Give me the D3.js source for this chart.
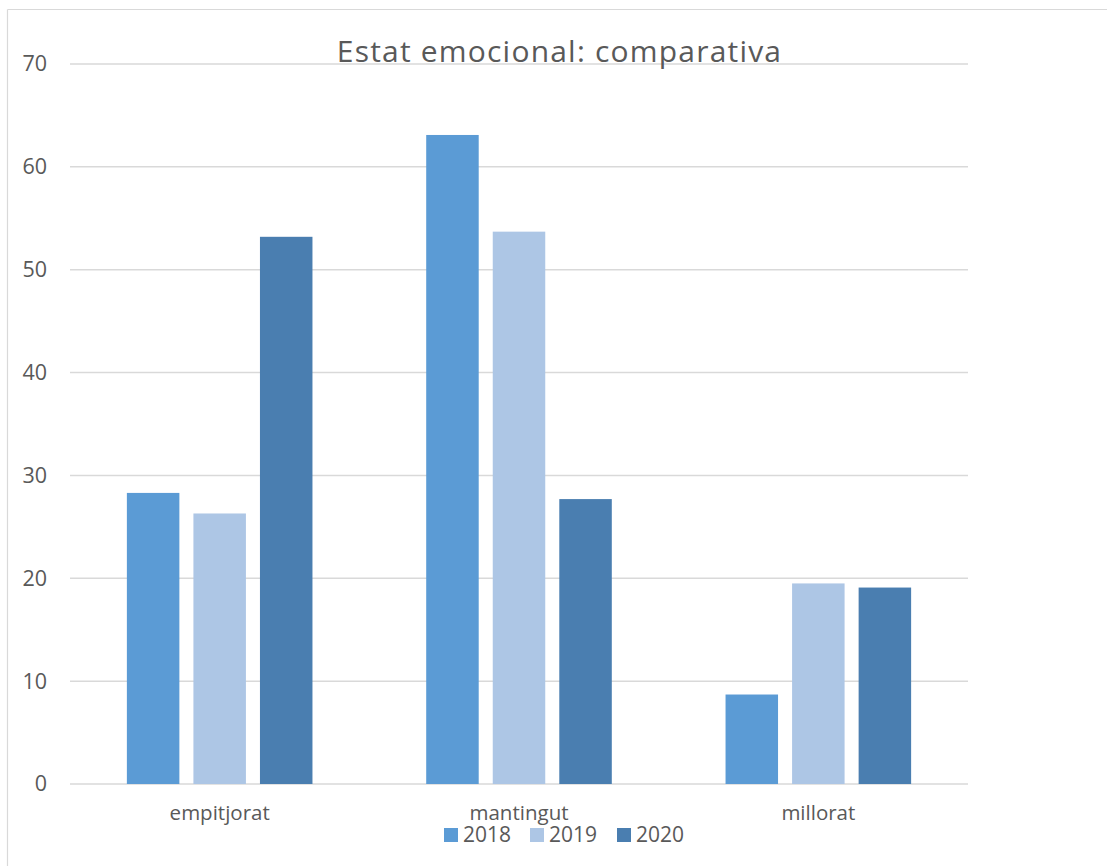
<!DOCTYPE html>
<html>
<head>
<meta charset="utf-8">
<script src="https://cdn.jsdelivr.net/npm/d3@7"></script>
<style>
  html, body { margin: 0; padding: 0; background: #fff; }
  svg { display: block; }
  text { font-family: "Open Sans", "Noto Sans", sans-serif; fill: #595959; }
</style>
</head>
<body>
<svg id="chart" width="1107" height="866"></svg>
<script>
const categories = ["empitjorat", "mantingut", "millorat"];
const seriesNames = ["2018", "2019", "2020"];
const values2018 = [28.3, 63.1, 8.7];
const values2019 = [26.3, 53.7, 19.5];
const values2020 = [53.2, 27.7, 19.1];
const yTicks = [0, 10, 20, 30, 40, 50, 60, 70];
const colors = ["#5B9BD5", "#ADC6E5", "#4A7EB0"];
const title = "Estat emocional: comparativa";

(function () {
const series = [values2018, values2019, values2020];

const svg = d3.select("#chart");
const W = 1107, H = 866;
const mLeft = 70, mRight = 968, mTop = 64, mBottom = 784;

// chart border (top and left visible)
svg.append("line").attr("x1", 7.5).attr("x2", W).attr("y1", 9.5).attr("y2", 9.5)
  .attr("stroke", "#d9d9d9").attr("stroke-width", 1.2);
svg.append("line").attr("x1", 7.5).attr("x2", 7.5).attr("y1", 9.5).attr("y2", H)
  .attr("stroke", "#d9d9d9").attr("stroke-width", 1.2);

const y = d3.scaleLinear().domain([0, 70]).range([mBottom, mTop]);
const x0 = d3.scaleBand().domain(categories).range([mLeft, mRight])
  .paddingInner(0.38).paddingOuter(0.19);
const x1 = d3.scaleBand().domain(seriesNames).range([0, x0.bandwidth()])
  .paddingInner(0.211).paddingOuter(0);

// gridlines
svg.append("g").selectAll("line").data(yTicks).join("line")
  .attr("x1", mLeft).attr("x2", mRight)
  .attr("y1", d => y(d)).attr("y2", d => y(d))
  .attr("stroke", "#d9d9d9").attr("stroke-width", 1.5);

// y axis labels
const yAxis = svg.append("g").attr("transform", `translate(${mLeft},0)`)
  .call(d3.axisLeft(y).tickValues(yTicks).tickSize(0).tickPadding(23));
yAxis.select(".domain").remove();
yAxis.selectAll("text").style("font-size", "21.5px").attr("fill", "#595959")
  .style("font-family", '"Open Sans", sans-serif');

// bars
const groups = svg.append("g").selectAll("g").data(categories).join("g")
  .attr("transform", d => `translate(${x0(d)},0)`);
groups.selectAll("rect")
  .data((c, ci) => seriesNames.map((s, si) => ({ s, si, v: series[si][ci] })))
  .join("rect")
  .attr("x", d => x1(d.s))
  .attr("width", x1.bandwidth())
  .attr("y", d => y(d.v))
  .attr("height", d => y(0) - y(d.v))
  .attr("fill", d => colors[d.si]);

// x axis labels
const xAxis = svg.append("g").attr("transform", `translate(0,${mBottom})`)
  .call(d3.axisBottom(x0).tickSize(0).tickPadding(21));
xAxis.select(".domain").remove();
xAxis.selectAll("text").style("font-size", "20.5px").attr("fill", "#595959")
  .style("font-family", '"Open Sans", sans-serif');

// title
svg.append("text").attr("x", 559.5).attr("y", 62).attr("text-anchor", "middle")
  .style("font-size", "30px").style("letter-spacing", "1.2px").text(title);

// legend
const legendX = [444, 530, 617];
const lg = svg.append("g").selectAll("g").data(seriesNames).join("g")
  .attr("transform", (d, i) => `translate(${legendX[i]},828)`);
lg.append("rect").attr("width", 14).attr("height", 14).attr("fill", (d, i) => colors[i]);
lg.append("text").attr("x", 19).attr("y", 14).style("font-size", "21px").text(d => d);
})();
</script>
</body>
</html>
